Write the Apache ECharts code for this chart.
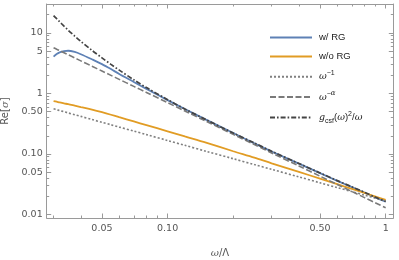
<!DOCTYPE html>
<html><head><meta charset="utf-8">
<script src="https://cdn.jsdelivr.net/npm/echarts@6/dist/echarts.min.js"></script>
<style>html,body{margin:0;padding:0;background:#fff}#c{width:399px;height:260px}</style>
</head><body><div id="c"></div>
<script>
const omega = [0.03,0.031,0.032,0.0335,0.035,0.0375,0.04,0.045,0.05,0.055,0.06,0.07,0.08,0.1,0.12,0.15,0.2,0.25,0.3,0.4,0.5,0.6,0.7,0.8,0.9,1.0];
const withRG = [4.06,4.48,4.78,5.02,5.08,4.85,4.45,3.67,3.06,2.53,2.10,1.55,1.19,0.776,0.554,0.369,0.222,0.150,0.110,0.0691,0.0482,0.036,0.0283,0.0230,0.0191,0.0163];
const withoutRG = [0.75,0.73,0.71,0.685,0.665,0.628,0.595,0.54,0.49,0.445,0.405,0.345,0.30,0.237,0.195,0.154,0.111,0.087,0.070,0.0505,0.0392,0.0317,0.0265,0.0227,0.0198,0.0174];
const powerMinus1 = [0.557,0.539,0.522,0.499,0.477,0.445,0.418,0.371,0.334,0.304,0.278,0.239,0.209,0.167,0.139,0.111,0.0835,0.0668,0.0557,0.0418,0.0334,0.0278,0.0239,0.0209,0.0186,0.0167];
const powerMinusAlpha = [5.70,5.385,5.10,4.71,4.36,3.87,3.46,2.82,2.35,1.99,1.71,1.31,1.04,0.705,0.513,0.348,0.211,0.143,0.104,0.0634,0.0430,0.0313,0.0240,0.0190,0.0155,0.0129];
const gcsfSq = [19.4,17.2,15.3,12.95,11.1,8.9,7.27,5.16,3.88,3.02,2.43,1.68,1.25,0.79,0.554,0.369,0.222,0.152,0.111,0.0697,0.0486,0.0363,0.0286,0.0232,0.0192,0.0164];

const xMajorTicks = [0.05,0.1,0.5,1];
const xMajorLabels = ['0.05','0.10','0.50','1'];
const xMinorTicks = [0.03,0.04,0.06,0.07,0.08,0.09,0.2,0.3,0.4,0.6,0.7,0.8,0.9];
const yMajorTicks = [0.01,0.05,0.1,0.5,1,5,10];
const yMajorLabels = ['0.01','0.05','0.10','0.50','1','5','10'];
const yMinorTicks = [0.02,0.03,0.04,0.06,0.07,0.08,0.09,0.2,0.3,0.4,0.6,0.7,0.8,0.9,2,3,4,6,7,8,9,20];
const xRange = [0.0279, 1.084];
const yRange = [0.00875, 30.1];

const L = Math.log10;
const FRAME = '#9a9a9a';
const LABEL = '#555';

function lookup(v, ticks, labels){
  for (let i=0;i<ticks.length;i++) if (Math.abs(L(ticks[i])-v)<1e-6) return labels[i];
  return '';
}
function mkAxis(kind, pos, ticks, len, withLabels, showLine){
  const isX = kind==='x';
  const rng = isX ? xRange : yRange;
  const ax = {
    type:'value', position:pos, min:L(rng[0]), max:L(rng[1]),
    axisLine:{show:showLine, onZero:false, lineStyle:{color:FRAME,width:1}},
    axisTick:{show:true, inside:true, length:len, customValues:ticks.map(L), lineStyle:{color:FRAME,width:1}},
    splitLine:{show:false},
    axisLabel:{show:false}
  };
  if (withLabels){
    const labels = isX ? xMajorLabels : yMajorLabels;
    ax.axisLabel = {show:true, customValues:ticks.map(L), color:LABEL, fontFamily:'DejaVu Sans', fontSize:9.5,
      margin: isX ? 6 : 4,
      formatter:(v)=>lookup(v, ticks, labels)};
  }
  return ax;
}
const xAxes = [
  mkAxis('x','bottom',xMajorTicks,4.5,true,true),
  mkAxis('x','bottom',xMinorTicks,2.5,false,false),
  mkAxis('x','top',xMajorTicks,4.5,false,true),
  mkAxis('x','top',xMinorTicks,2.5,false,false)
];
xAxes[0].name = '{i|ω}{n|/Λ}';
xAxes[0].nameLocation = 'middle';
xAxes[0].nameGap = 30;
xAxes[0].nameTextStyle = {rich:{i:{fontStyle:'italic',fontFamily:'DejaVu Serif',fontSize:10,color:LABEL},n:{fontFamily:'DejaVu Sans',fontSize:10,color:LABEL}}};
const yAxes = [
  mkAxis('y','left',yMajorTicks,4.5,true,true),
  mkAxis('y','left',yMinorTicks,2.5,false,false),
  mkAxis('y','right',yMajorTicks,4.5,false,true),
  mkAxis('y','right',yMinorTicks,2.5,false,false)
];
yAxes[0].name = '{n|Re[}{i|σ}{n|]}';
yAxes[0].nameLocation = 'middle';
yAxes[0].nameGap = 31;
yAxes[0].nameRotate = 90;
yAxes[0].nameTextStyle = {rich:{i:{fontStyle:'italic',fontFamily:'DejaVu Serif',fontSize:10,color:LABEL},n:{fontFamily:'DejaVu Sans',fontSize:10,color:LABEL}}};

function mkSeries(name, vals, color, type, width){
  return {
    name, type:'line', xAxisIndex:0, yAxisIndex:0, symbol:'none', showSymbol:false, smooth:0.3, silent:true,
    lineStyle:{color, width, type, cap:'butt'},
    itemStyle:{color},
    data: omega.map((w,i)=>[L(w), L(vals[i])])
  };
}
const names = ['w/ RG','w/o RG','ω^-1','ω^-α','gcsf'];
const legendRich = {
  n:{fontFamily:'Liberation Sans',fontSize:9.5,color:'#222',lineHeight:14},
  i:{fontFamily:'DejaVu Serif',fontStyle:'italic',fontSize:9.5,color:'#222',lineHeight:14},
  sup:{fontFamily:'Liberation Sans',fontSize:7,color:'#222',verticalAlign:'top',lineHeight:14},
  supi:{fontFamily:'DejaVu Serif',fontStyle:'italic',fontSize:7,color:'#222',verticalAlign:'top',lineHeight:14},
  sub:{fontFamily:'Liberation Sans',fontSize:7,color:'#222',verticalAlign:'bottom',lineHeight:14}
};
const legendText = {
  'w/ RG':'{n|w/ RG}',
  'w/o RG':'{n|w/o RG}',
  'ω^-1':'{i|ω}{sup|−1}',
  'ω^-α':'{i|ω}{sup|−}{supi|α}',
  'gcsf':'{i|g}{sub|csf}{n|(}{i|ω}{n|)}{sup|2}{n|/}{i|ω}'
};

const chart = echarts.init(document.getElementById('c'), null, {renderer:'canvas'});
chart.setOption({
  animation:false,
  backgroundColor:'#fff',
  grid:{left:46.7, right:5.7, top:4, bottom:42, outerBoundsMode:'none'},
  xAxis:xAxes,
  yAxis:yAxes,
  legend:{
    orient:'vertical', left:264, top:27, itemWidth:42, itemHeight:14, itemGap:7.7,
    data:names, selectedMode:false,
    itemStyle:{opacity:0},
    formatter:(n)=>legendText[n],
    textStyle:{rich:legendRich, padding:[0,0,0,2]}
  },
  series:[
    mkSeries(names[0], withRG, '#5E81B5', 'solid', 1.8),
    mkSeries(names[1], withoutRG, '#E19C24', 'solid', 1.8),
    mkSeries(names[2], powerMinus1, '#808080', [2,2], 1.6),
    mkSeries(names[3], powerMinusAlpha, '#7a7a7a', [6,2.5], 1.6),
    mkSeries(names[4], gcsfSq, '#444444', [5,2,1.6,2], 1.7)
  ]
});
</script></body></html>
